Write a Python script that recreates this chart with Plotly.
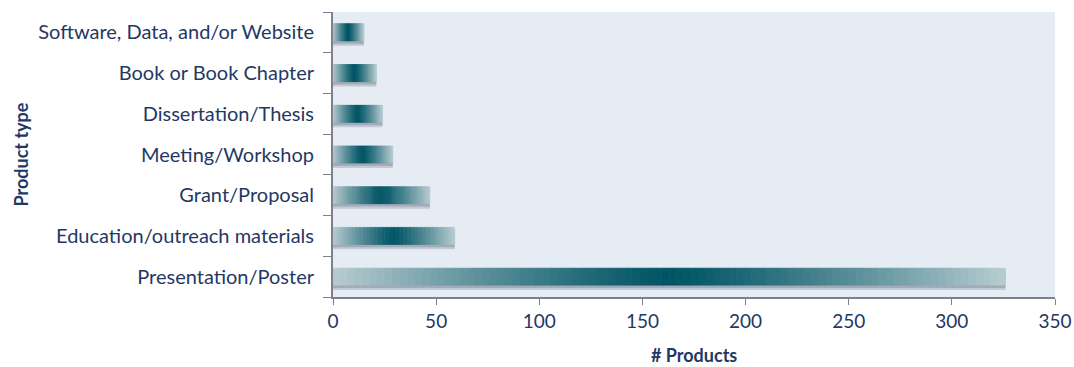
import plotly.graph_objects as go

categories = ["Presentation/Poster", "Education/outreach materials", "Grant/Proposal",
              "Meeting/Workshop", "Dissertation/Thesis", "Book or Book Chapter",
              "Software, Data, and/or Website"]
values = [326, 59, 47, 29, 24, 21, 15]
x_ticks = [0, 50, 100, 150, 200, 250, 300, 350]

N = 90
dark = (0, 85, 101)
light = (185, 205, 210)
W = 0.42

fig = go.Figure()
# soft shadow
fig.add_trace(go.Bar(y=categories, x=values, orientation="h", width=W, offset=-W/2 - 0.12,
                     marker=dict(color="rgba(90,100,120,0.25)", line=dict(width=0)),
                     hoverinfo="skip", showlegend=False))
fig.add_trace(go.Bar(y=categories, x=values, orientation="h", width=W, offset=-W/2 - 0.07,
                     marker=dict(color="rgba(90,100,120,0.30)", line=dict(width=0)),
                     hoverinfo="skip", showlegend=False))
for i in range(N):
    t = abs((i + 0.5) / N - 0.5) * 2
    t = t ** 1.2
    c = "rgb(%d,%d,%d)" % tuple(int(dark[k] + (light[k] - dark[k]) * t) for k in range(3))
    fig.add_trace(go.Bar(y=categories, x=[v / N for v in values],
                         base=[v * i / N for v in values], orientation="h",
                         width=W, offset=-W/2,
                         marker=dict(color=c, line=dict(width=0.6, color=c)),
                         hoverinfo="skip", showlegend=False))

font_fam = "Lato, 'Open Sans', sans-serif"
txt = "#1F3864"
fig.update_layout(
    width=1074, height=367,
    margin=dict(l=333, r=19, t=12, b=70, autoexpand=False),
    barmode="overlay",
    plot_bgcolor="#E6ECF4",
    paper_bgcolor="white",
    font=dict(family=font_fam, color=txt, size=20),
    xaxis=dict(range=[0, 350], tickvals=x_ticks, ticks="outside", ticklen=6,
               tickcolor="#7F7F8F", showline=True, linecolor="#7F7F8F", linewidth=2,
               showgrid=False, zeroline=False, automargin=False,
               tickfont=dict(size=19, color=txt)),
    yaxis=dict(categoryorder="array", categoryarray=categories,
               tickson="boundaries", ticks="outside", ticklen=8, tickcolor="#7F7F8F",
               showline=True, linecolor="#7F7F8F", linewidth=2, showgrid=False,
               automargin=False, ticklabelstandoff=13,
               tickfont=dict(size=20, color=txt)),
    annotations=[
        dict(text="<b># Products</b>", xref="paper", yref="paper", x=0.5, y=-0.2035,
             xanchor="center", yanchor="middle", showarrow=False,
             font=dict(size=18, color=txt, family=font_fam)),
        dict(text="<b>Product type</b>", xref="paper", yref="paper", x=-0.4335, y=0.5,
             xanchor="center", yanchor="middle", showarrow=False, textangle=-90,
             font=dict(size=18, color=txt, family=font_fam)),
    ],
)
fig.write_html("out.html", config={"displayModeBar": False},
               post_script="document.body.style.margin='0';document.body.style.padding='0';")
